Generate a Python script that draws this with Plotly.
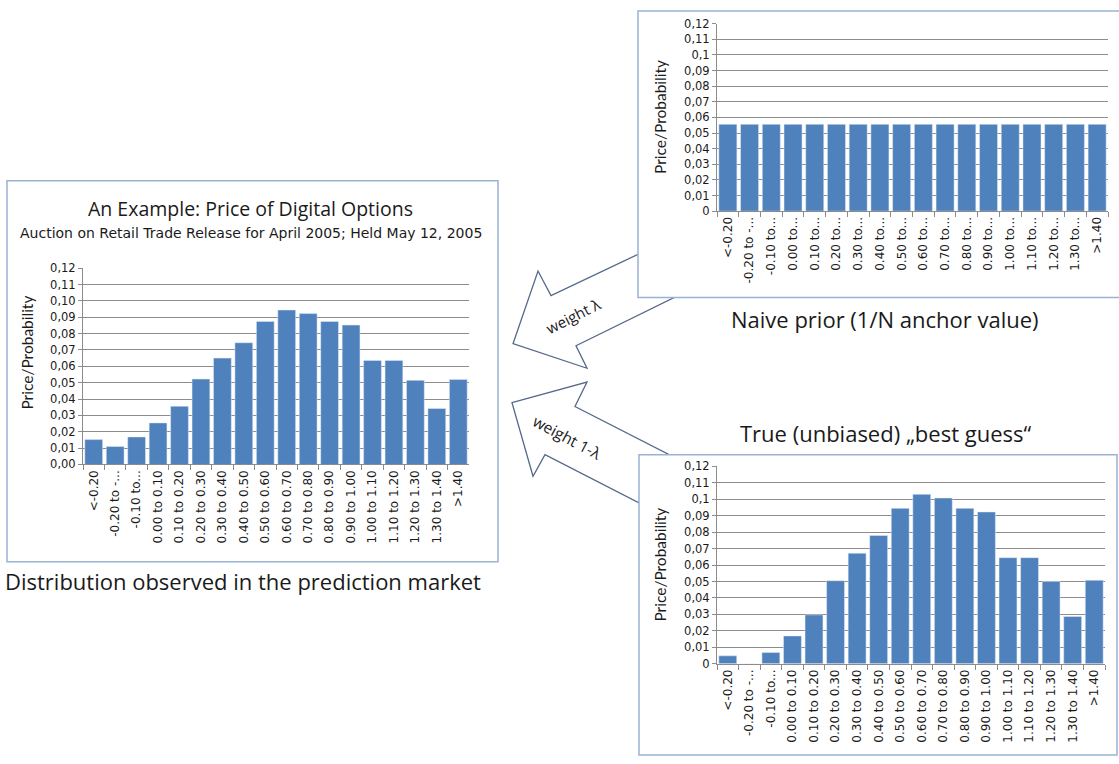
import plotly.graph_objects as go

W, H = 1119, 764

# ---------------- data ----------------
cats_full = ["<-0.20", "-0.20 to -...", "-0.10 to...", "0.00 to 0.10", "0.10 to 0.20",
             "0.20 to 0.30", "0.30 to 0.40", "0.40 to 0.50", "0.50 to 0.60", "0.60 to 0.70",
             "0.70 to 0.80", "0.80 to 0.90", "0.90 to 1.00", "1.00 to 1.10", "1.10 to 1.20",
             "1.20 to 1.30", "1.30 to 1.40", ">1.40"]
cats_short = ["<-0.20", "-0.20 to -...", "-0.10 to...", "0.00 to...", "0.10 to...",
              "0.20 to...", "0.30 to...", "0.40 to...", "0.50 to...", "0.60 to...",
              "0.70 to...", "0.80 to...", "0.90 to...", "1.00 to...", "1.10 to...",
              "1.20 to...", "1.30 to...", ">1.40"]

observed = [0.0152, 0.0110, 0.0168, 0.0254, 0.0356, 0.0522, 0.0650, 0.0744, 0.0874,
            0.0944, 0.0922, 0.0874, 0.0852, 0.0636, 0.0636, 0.0514, 0.0342, 0.0520]
naive = [0.0556] * 18
best_guess = [0.0048, 0.0, 0.0068, 0.0169, 0.0297, 0.0505, 0.0672, 0.0780, 0.0945,
              0.1030, 0.1008, 0.0945, 0.0923, 0.0645, 0.0645, 0.0500, 0.0287, 0.0508]

ytick_vals = [0.0, 0.01, 0.02, 0.03, 0.04, 0.05, 0.06, 0.07, 0.08, 0.09, 0.10, 0.11, 0.12]
ytick_text_left = ["0,00", "0,01", "0,02", "0,03", "0,04", "0,05", "0,06", "0,07", "0,08",
                   "0,09", "0,10", "0,11", "0,12"]
ytick_text_right = ["0", "0,01", "0,02", "0,03", "0,04", "0,05", "0,06", "0,07", "0,08",
                    "0,09", "0,1", "0,11", "0,12"]

# ---------------- styles ----------------
BAR = "#4f81bd"
GRID = "#8c8c8c"
BOX = "#9ab3d3"
ARROW = "#55698a"
FONT = "Open Sans"
TXT = "#1a1a1a"


def px(x):
    return x / W


def py(y):
    return 1 - y / H


fig = go.Figure()

fig.add_trace(go.Bar(x=cats_full, y=observed, marker_color=BAR, xaxis="x", yaxis="y",
                     showlegend=False))
fig.add_trace(go.Bar(x=cats_short, y=naive, marker_color=BAR, xaxis="x2", yaxis="y2",
                     showlegend=False))
fig.add_trace(go.Bar(x=cats_full, y=best_guess, marker_color=BAR, xaxis="x3", yaxis="y3",
                     showlegend=False))


def xax(domain, anchor):
    return dict(domain=domain, anchor=anchor, type="category", tickangle=-90,
                showline=True, linecolor=GRID, linewidth=1, ticks="outside",
                tickson="boundaries", ticklen=5, tickcolor=GRID, showgrid=False,
                tickfont=dict(family="DejaVu Sans", size=12, color=TXT), fixedrange=True)


def yax(domain, anchor, text):
    return dict(domain=domain, anchor=anchor, range=[0, 0.12], tickvals=ytick_vals,
                ticktext=text, showline=True, linecolor=GRID, linewidth=1, ticks="outside",
                ticklen=4, tickcolor=GRID, showgrid=True, gridcolor=GRID, gridwidth=1,
                zeroline=False, tickfont=dict(family="DejaVu Sans", size=11.5, color=TXT),
                fixedrange=True)


shapes = []
# arrows (drawn first so boxes cover shaft ends)
arrow1 = [(513, 343), (538, 269), (551, 294), (700, 222), (700, 283), (576, 345), (587, 368)]
arrow2 = [(512, 403), (587, 382), (575, 407), (700, 472), (700, 537), (545, 456), (533, 478)]
for pts in (arrow1, arrow2):
    path = "M " + " L ".join(f"{px(x):.5f},{py(y):.5f}" for x, y in pts) + " Z"
    shapes.append(dict(type="path", path=path, xref="paper", yref="paper",
                       fillcolor="white", line=dict(color=ARROW, width=1.3), layer="below"))
# panel boxes
for x0, y0, x1, y1 in [(7, 177, 498, 565), (638, 4, 1130, 296), (639, 456, 1117, 762)]:
    shapes.append(dict(type="rect", xref="paper", yref="paper", x0=px(x0), x1=px(x1),
                       y0=py(y1), y1=py(y0), fillcolor="white",
                       line=dict(color=BOX, width=1.5), layer="below"))

annotations = [
    dict(text="An Example: Price of Digital Options", x=px(250), y=py(205),
         font=dict(family=FONT, size=19.5, color=TXT)),
    dict(text="Auction on Retail Trade Release for April 2005; Held May 12, 2005",
         x=px(251), y=py(230), font=dict(family="DejaVu Sans", size=14, color=TXT)),
    dict(text="Distribution observed in the prediction market", x=px(243), y=py(585),
         font=dict(family=FONT, size=22, color=TXT)),
    dict(text="Naive prior (1/N anchor value)", x=px(885), y=py(318),
         font=dict(family=FONT, size=22, color=TXT)),
    dict(text="True (unbiased) „best guess“", x=px(885), y=py(434),
         font=dict(family=FONT, size=22, color=TXT)),
    dict(text="Price/Probability", x=px(27), y=py(352), textangle=-90,
         font=dict(family="Lato", size=15.5, color=TXT)),
    dict(text="Price/Probability", x=px(660), y=py(112), textangle=-90,
         font=dict(family="Lato", size=15.5, color=TXT)),
    dict(text="Price/Probability", x=px(660), y=py(568), textangle=-90,
         font=dict(family="Lato", size=15.5, color=TXT)),
    dict(text="weight λ", x=px(573), y=py(315), textangle=-27,
         font=dict(family=FONT, size=15, color=TXT)),
    dict(text="weight 1-λ", x=px(567), y=py(438), textangle=28,
         font=dict(family=FONT, size=15.5, color=TXT)),
]
for a in annotations:
    a.update(xref="paper", yref="paper", showarrow=False, xanchor="center", yanchor="middle")

fig.update_layout(
    width=W, height=H, margin=dict(l=0, r=0, t=0, b=0),
    paper_bgcolor="white", plot_bgcolor="rgba(0,0,0,0)",
    bargap=0.17, showlegend=False,
    xaxis=xax([px(83), px(469)], "y"),
    yaxis=yax([py(466), py(266)], "x", ytick_text_left),
    xaxis2=xax([px(717), px(1108)], "y2"),
    yaxis2=yax([py(208), py(17)], "x2", ytick_text_right),
    xaxis3=xax([px(717), px(1105)], "y3"),
    yaxis3=yax([py(669), py(468)], "x3", ytick_text_right),
    shapes=shapes, annotations=annotations,
)

fig.write_html("out.html", config={"displayModeBar": False})
